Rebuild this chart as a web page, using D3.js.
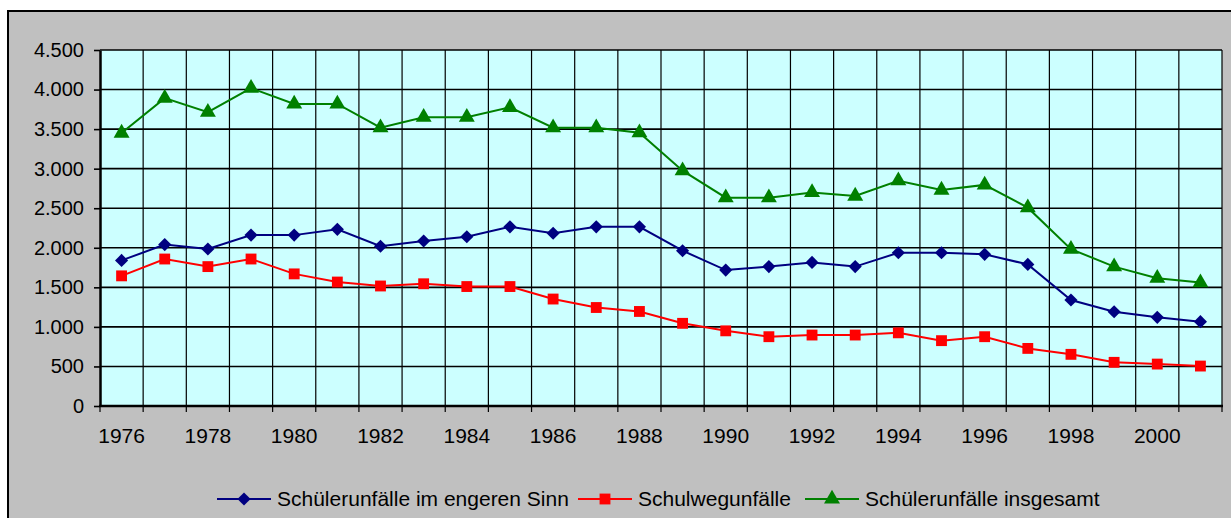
<!DOCTYPE html>
<html>
<head>
<meta charset="utf-8">
<script src="https://cdn.jsdelivr.net/npm/d3@7"></script>
<style>
  html, body { margin: 0; padding: 0; background: #fff; }
  svg { display: block; font-family: "Liberation Sans", Arial, sans-serif; }
</style>
</head>
<body>
<svg id="chart" width="1231" height="518"></svg>
<script>
// data
const years = d3.range(1976, 2002)
const engererSinn = [1840, 2040, 1985, 2160, 2160, 2233, 2020, 2085, 2140, 2265, 2183, 2265, 2265, 1963, 1718, 1762, 1815, 1762, 1937, 1937, 1917, 1790, 1340, 1192, 1121, 1066]
const schulweg = [1645, 1858, 1762, 1858, 1670, 1567, 1517, 1545, 1510, 1510, 1352, 1245, 1195, 1045, 950, 876, 897, 897, 925, 826, 876, 728, 653, 552, 530, 505]
const insgesamt = [3450, 3892, 3715, 4018, 3818, 3818, 3518, 3650, 3650, 3775, 3518, 3518, 3455, 2975, 2633, 2633, 2700, 2654, 2848, 2730, 2795, 2507, 1983, 1762, 1615, 1560]
const yTicks = d3.range(0, 4501, 500)
const xLabels = years.filter(d => d % 2 === 0)

const seriesNames = ['Schülerunfälle im engeren Sinn', 'Schulwegunfälle', 'Schülerunfälle insgesamt']

const series = [
    { name: seriesNames[0], values: engererSinn, color: '#000080', symbol: d3.symbolDiamond2, size: 110 },
    { name: seriesNames[1], values: schulweg, color: '#FF0000', symbol: d3.symbolSquare2, size: 150 },
    { name: seriesNames[2], values: insgesamt, color: '#008000', symbol: d3.symbolTriangle, size: 110 }
]

const svg = d3.select('#chart')

// outer chart area
svg.append('rect')
    .attr('x', 8).attr('y', 11)
    .attr('width', 1240).attr('height', 520)
    .attr('fill', '#C0C0C0')
    .attr('stroke', '#000').attr('stroke-width', 2)

const plotLeft = 100, plotTop = 50, plotRight = 1222, plotBottom = 406

const x = d3.scaleBand().domain(years).range([plotLeft, plotRight]).padding(0)
const y = d3.scaleLinear().domain([0, 4500]).range([plotBottom, plotTop])
const cx = d => x(d) + x.bandwidth() / 2

svg.append('rect')
    .attr('x', plotLeft).attr('y', plotTop)
    .attr('width', plotRight - plotLeft).attr('height', plotBottom - plotTop)
    .attr('fill', '#CCFFFF')

// vertical grid at category boundaries
const bounds = years.map(d => x(d)).concat([plotRight])
svg.append('g').selectAll('line')
    .data(bounds.slice(1))
    .join('line')
    .attr('x1', d => d).attr('x2', d => d)
    .attr('y1', plotTop).attr('y2', plotBottom)
    .attr('stroke', '#000').attr('stroke-width', 1.2)

// horizontal grid
svg.append('g').selectAll('line')
    .data(yTicks.slice(1))
    .join('line')
    .attr('x1', plotLeft).attr('x2', plotRight)
    .attr('y1', d => y(d)).attr('y2', d => y(d))
    .attr('stroke', '#000').attr('stroke-width', 1.6)

const de = d3.formatLocale({ decimal: ',', thousands: '.', grouping: [3], currency: ['', ' €'] })

const yAxis = svg.append('g').attr('transform', 'translate(' + plotLeft + ',0)')
yAxis.call(d3.axisLeft(y).tickValues(yTicks).tickSizeInner(6).tickSizeOuter(0).tickPadding(10).tickFormat(de.format(',')))
yAxis.select('path').attr('stroke-width', 2.5)
yAxis.selectAll('.tick line').attr('stroke-width', 1.6)
yAxis.selectAll('.tick text').attr('font-size', 20).attr('fill', '#000').attr('font-family', '"Liberation Sans", Arial, sans-serif')

const xAxis = svg.append('g').attr('transform', 'translate(0,' + plotBottom + ')')
xAxis.call(d3.axisBottom(x).tickValues(xLabels).tickSize(0).tickPadding(22))
xAxis.select('path').remove()
xAxis.selectAll('.tick text').attr('font-size', 21).attr('fill', '#000').attr('font-family', '"Liberation Sans", Arial, sans-serif')

// tick marks between categories
svg.append('g').selectAll('line')
    .data(bounds)
    .join('line')
    .attr('x1', d => d).attr('x2', d => d)
    .attr('y1', plotBottom).attr('y2', plotBottom + 6)
    .attr('stroke', '#000').attr('stroke-width', 1.2)

svg.append('line')
    .attr('x1', plotLeft - 1).attr('x2', plotRight + 1)
    .attr('y1', plotBottom).attr('y2', plotBottom)
    .attr('stroke', '#000').attr('stroke-width', 2.5)

const line = d3.line().x((d, i) => cx(years[i])).y(d => y(d))

series.forEach(s => {
    const g = svg.append('g')
    g.append('path')
        .attr('d', line(s.values))
        .attr('fill', 'none')
        .attr('stroke', s.color)
        .attr('stroke-width', 2)
    g.selectAll('path.m')
        .data(s.values)
        .join('path')
        .attr('class', 'm')
        .attr('d', d3.symbol(s.symbol, s.size))
        .attr('transform', (d, i) => 'translate(' + cx(years[i]) + ',' + y(d) + ')')
        .attr('fill', s.color)
})

// legend
const legendX = [217, 578, 805]
const legendY = 499
series.forEach((s, i) => {
    const g = svg.append('g').attr('transform', 'translate(' + legendX[i] + ',' + legendY + ')')
    g.append('line').attr('x1', 0).attr('x2', 54).attr('stroke', s.color).attr('stroke-width', 2)
    g.append('path').attr('d', d3.symbol(s.symbol, s.size)).attr('transform', 'translate(27,0)').attr('fill', s.color)
    g.append('text')
        .text(s.name)
        .attr('x', 60).attr('y', 7)
        .attr('font-size', 21)
        .attr('fill', '#000')
})
</script>
</body>
</html>
